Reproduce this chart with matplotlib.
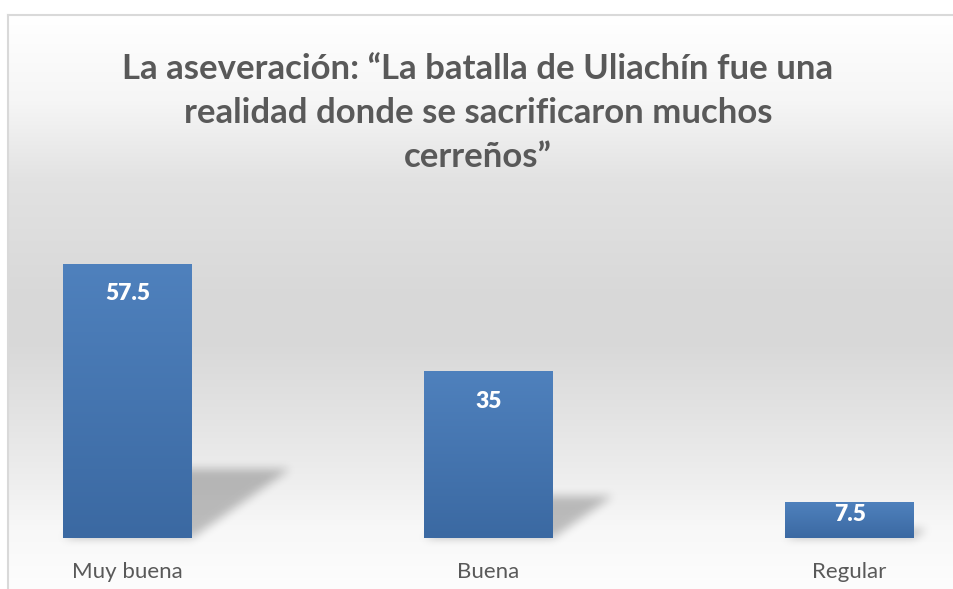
import numpy as np
import matplotlib
matplotlib.use("Agg")
import matplotlib.pyplot as plt
from matplotlib.path import Path

plt.rcParams['font.family'] = ['Lato', 'DejaVu Sans']

# datos
categorias = ["Muy buena", "Buena", "Regular"]
valores = [57.5, 35, 7.5]
titulo = ("La aseveración: \u201cLa batalla de Uliachín fue una\n"
          "realidad donde se sacrificaron muchos\n"
          "cerreños\u201d")

W, H = 954, 589
fig = plt.figure(figsize=(W / 100, H / 100), dpi=100)

# fondo con degradado (coordenadas en pixeles)
bg = fig.add_axes([0, 0, 1, 1], zorder=0)
bg.set_xlim(0, W)
bg.set_ylim(H, 0)
bg.axis("off")
stops_y = [15, 100, 180, 300, 340, 420, 480, 530, 589]
stops_v = [255, 246, 226, 216, 216, 228, 238, 248, 253]
yy = np.arange(H)
g = np.interp(yy, stops_y, stops_v) / 255.0
grad = np.repeat(g[:, None, None], 3, axis=2)
bg.imshow(grad, extent=[8, W, H, 0], aspect="auto", zorder=0)
bg.plot([8, 8], [H, 15], color="#d9d9d9", lw=1.5, zorder=3)
bg.plot([8, W], [15, 15], color="#d9d9d9", lw=1.5, zorder=3)

fig.text(0.501, 1 - 113 / H, titulo, ha="center", va="center",
         fontsize=25, fontweight="bold", color="#595959", linespacing=1.45)

# ejes del grafico
ax = fig.add_axes([0, 51 / H, 1, 334 / H], zorder=2)
ax.patch.set_visible(False)
ax.set_xlim(-0.353, 2.289)
ax.set_ylim(0, 70)
for s in ax.spines.values():
    s.set_visible(False)
ax.set_yticks([])
x = np.arange(len(categorias))
ax.set_xticks(x, categorias)
ax.tick_params(axis="x", length=0, pad=17, labelsize=16, labelcolor="#595959")

ancho = 0.357
barras = ax.bar(x, valores, width=ancho, color="none", zorder=3)

# sombras difusas: mascara en pixeles + desenfoque
mask = np.zeros((H, W))
cx, cy = np.meshgrid(np.arange(W) + 0.5, H - (np.arange(H) + 0.5))
grid = np.column_stack([cx.ravel(), cy.ravel()])
for xi, v in zip(x, valores):
    sh = 0.25 * v
    dx = 0.0047 * v
    pts = [(xi - ancho / 2, 0), (xi + ancho / 2, 0),
           (xi + ancho / 2 + dx, sh), (xi - ancho / 2 + dx, sh)]
    ppx = ax.transData.transform(pts)
    inside = Path(ppx).contains_points(grid).reshape(H, W)
    mask[inside] = 1.0


def box_blur(a, r):
    k = np.ones(2 * r + 1) / (2 * r + 1)
    a = np.apply_along_axis(lambda m: np.convolve(m, k, mode="same"), 0, a)
    a = np.apply_along_axis(lambda m: np.convolve(m, k, mode="same"), 1, a)
    return a


for _ in range(3):
    mask = box_blur(mask, 4)
sombra = np.zeros((H, W, 4))
sombra[..., 3] = mask * 0.24
bg.imshow(sombra, extent=[0, W, H, 0], aspect="auto", zorder=1)

# relleno degradado de barras
top = np.array([79, 129, 189]) / 255.0
bot = np.array([59, 105, 162]) / 255.0
t = np.linspace(0, 1, 256)[:, None]
bar_grad = (top * (1 - t) + bot * t)[:, None, :]
for b in barras:
    x0, y0 = b.get_x(), b.get_y()
    w, h = b.get_width(), b.get_height()
    im = ax.imshow(bar_grad, extent=[x0, x0 + w, y0, y0 + h],
                   aspect="auto", zorder=3, origin="upper")
    im.set_clip_path(b)

ax.set_xlim(-0.353, 2.289)
ax.set_ylim(0, 70)

# etiquetas de datos
px_por_u = 334 / 70
for xi, v in zip(x, valores):
    alto_px = v * px_por_u
    off = -30 if alto_px > 60 else -12
    ax.annotate(f"{v:g}", (xi, v), xytext=(0, off), textcoords="offset pixels",
                ha="center", va="center", color="white", fontsize=16.5,
                fontweight="heavy", zorder=5)

fig.savefig("out.png", dpi=100)
